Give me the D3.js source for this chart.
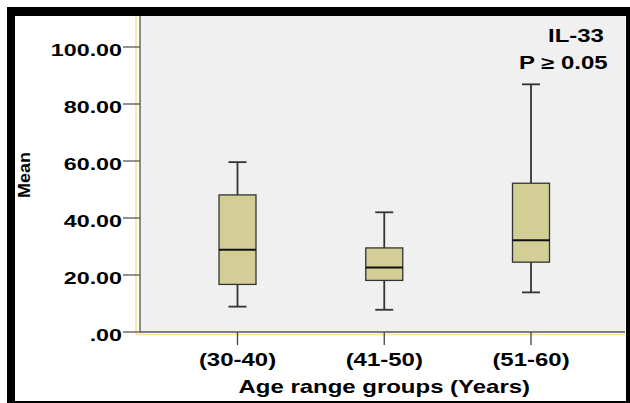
<!DOCTYPE html>
<html lang="en">
<head>
  <meta charset="UTF-8">
  <title>IL-33 by age range</title>
  <script src="https://d3js.org/d3.v7.min.js"></script>
  <style>
    body { margin: 0; background: #fff; }
    svg { display: block; }
    text { font-family: "Liberation Sans", Arial, sans-serif; font-weight: bold; fill: #000; }
  </style>
</head>
<body>
  <svg width="630" height="403"></svg>

  <script>
    // data
    const groups = ["(30-40)", "(41-50)", "(51-60)"];
    const mins    = [8.9, 7.8, 13.9];
    const q1s     = [16.7, 18.1, 24.5];
    const medians = [28.9, 22.6, 32.2];
    const q3s     = [48.1, 29.5, 52.2];
    const maxs    = [59.6, 42.0, 86.9];
    const yTicks  = [0, 20, 40, 60, 80, 100];

    const svg = d3.select("svg");
    const W = 630, H = 403;
    const plot = { left: 140, right: 625, top: 16, bottom: 332 };
    const stretch = 1.37;   // spss fonts are drawn wide

    const y = d3.scaleLinear().domain([0, 100]).range([plot.bottom, 47]);
    const x = d3.scalePoint().domain(groups)
      .range([plot.left + 97.5, plot.right - 94]);

    const fmt = v => d3.format(".2f")(v).replace(/^0\./, ".");

    // plot background
    svg.append("rect")
      .attr("x", plot.left).attr("y", plot.top)
      .attr("width", plot.right - plot.left).attr("height", plot.bottom - plot.top)
      .attr("fill", "#f0f0f0");

    // yellow guide lines
    svg.append("line").attr("x1", 136).attr("x2", 136).attr("y1", plot.top).attr("y2", 334.5)
      .attr("stroke", "#ffe08c").attr("stroke-width", 1.5);
    svg.append("line").attr("x1", 136).attr("x2", plot.right).attr("y1", 334.5).attr("y2", 334.5)
      .attr("stroke", "#ffe08c").attr("stroke-width", 1.5);

    // plot frame (left + bottom)
    svg.append("path")
      .attr("d", `M${plot.left},${plot.top}V${plot.bottom}H${plot.right}`)
      .attr("fill", "none").attr("stroke", "#555").attr("stroke-width", 1.3);

    // y axis ticks + labels
    const yAxis = svg.append("g");
    yAxis.selectAll("line").data(yTicks).enter().append("line")
      .attr("x1", 123).attr("x2", plot.left)
      .attr("y1", d => y(d)).attr("y2", d => y(d))
      .attr("stroke", "#555").attr("stroke-width", 1.3);
    yAxis.selectAll("text").data(yTicks).enter().append("text")
      .attr("transform", d => `translate(122,${y(d) + 9}) scale(${stretch},1)`)
      .attr("text-anchor", "end")
      .attr("font-size", 17)
      .text(fmt);

    // x axis ticks + labels
    const xAxis = svg.append("g");
    xAxis.selectAll("line").data(groups).enter().append("line")
      .attr("x1", d => x(d)).attr("x2", d => x(d))
      .attr("y1", plot.bottom).attr("y2", 345)
      .attr("stroke", "#444").attr("stroke-width", 1.3);
    xAxis.selectAll("text").data(groups).enter().append("text")
      .attr("transform", d => `translate(${x(d)},366) scale(${stretch},1)`)
      .attr("text-anchor", "middle")
      .attr("font-size", 17.5)
      .text(d => d);

    // boxes
    const boxW = 37, capW = 18;
    const rows = groups.map((g, i) => ({ g, lo: mins[i], q1: q1s[i], med: medians[i], q3: q3s[i], hi: maxs[i] }));
    const box = svg.append("g").selectAll("g").data(rows).enter().append("g")
      .attr("transform", d => `translate(${x(d.g)},0)`);

    box.append("line")
      .attr("y1", d => y(d.hi)).attr("y2", d => y(d.q3))
      .attr("stroke", "#333").attr("stroke-width", 1.8);
    box.append("line")
      .attr("y1", d => y(d.q1)).attr("y2", d => y(d.lo))
      .attr("stroke", "#333").attr("stroke-width", 1.8);
    box.append("line")
      .attr("x1", -capW / 2).attr("x2", capW / 2)
      .attr("y1", d => y(d.hi)).attr("y2", d => y(d.hi))
      .attr("stroke", "#333").attr("stroke-width", 1.8);
    box.append("line")
      .attr("x1", -capW / 2).attr("x2", capW / 2)
      .attr("y1", d => y(d.lo)).attr("y2", d => y(d.lo))
      .attr("stroke", "#333").attr("stroke-width", 1.8);
    box.append("rect")
      .attr("x", -boxW / 2).attr("width", boxW)
      .attr("y", d => y(d.q3)).attr("height", d => y(d.q1) - y(d.q3))
      .attr("fill", "#d2ce96").attr("stroke", "#333").attr("stroke-width", 1.3);
    box.append("line")
      .attr("x1", -boxW / 2).attr("x2", boxW / 2)
      .attr("y1", d => y(d.med)).attr("y2", d => y(d.med))
      .attr("stroke", "#111").attr("stroke-width", 2);

    // titles
    svg.append("text")
      .attr("transform", `translate(${x(groups[1])},393) scale(${stretch},1)`)
      .attr("text-anchor", "middle")
      .attr("font-size", 17.5)
      .text("Age range groups (Years)");

    svg.append("text")
      .attr("transform", `translate(29.5,175) rotate(-90) scale(1.12,1)`)
      .attr("text-anchor", "middle")
      .attr("font-size", 16)
      .text("Mean");

    svg.append("text")
      .attr("transform", `translate(548,42) scale(${stretch},1)`)
      .attr("font-size", 17.5)
      .text("IL-33");
    svg.append("text")
      .attr("transform", `translate(519,69) scale(${stretch},1)`)
      .attr("font-size", 17.5)
      .text("P \u2265 0.05");

    // outer black frame
    const frame = svg.append("g").attr("fill", "#000");
    frame.append("rect").attr("x", 7).attr("y", 7).attr("width", W - 7).attr("height", 9);
    frame.append("rect").attr("x", 7).attr("y", 7).attr("width", 8).attr("height", H - 7);
    frame.append("rect").attr("x", 626).attr("y", 7).attr("width", 4).attr("height", H - 7);
    frame.append("rect").attr("x", 7).attr("y", 401).attr("width", W - 7).attr("height", 2);
  </script>
</body>
</html>
